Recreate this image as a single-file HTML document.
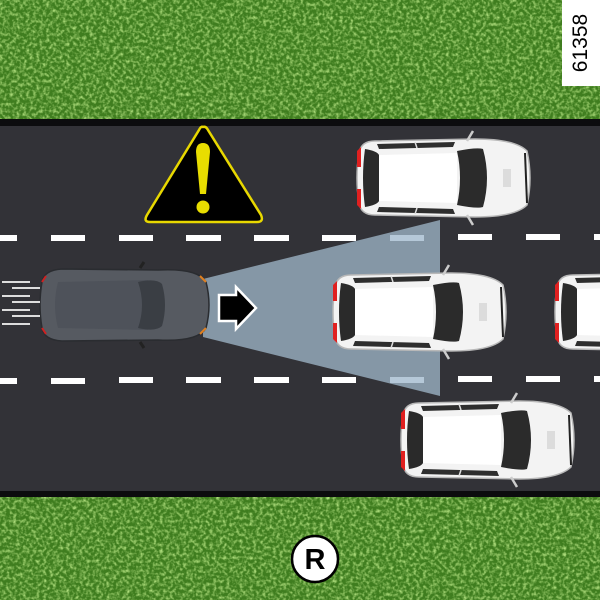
<!DOCTYPE html>
<html><head><meta charset="utf-8"><style>
html,body{margin:0;padding:0;width:600px;height:600px;overflow:hidden;background:#3f7d1f}
svg{display:block}
</style></head><body>
<svg width="600" height="600" viewBox="0 0 600 600" xmlns="http://www.w3.org/2000/svg">
<defs>
<filter id="grass" x="0" y="0" width="100%" height="100%">
<feTurbulence type="fractalNoise" baseFrequency="0.3" numOctaves="2" seed="3"/>
<feColorMatrix type="matrix" values="0 0 0 0 0.42  0 0 0 0 0.72  0 0 0 0 0.2  0 0 0 2.2 -0.9"/>
</filter>
<g id="wcar">
<path d="M4,14 Q6,2 20,2 L120,0 Q160,0 172,12 Q178,39 172,66 Q160,78 120,78 L20,76 Q6,76 4,64 Q0,39 4,14 Z" fill="#f3f3f3" stroke="#b8b8b8" stroke-width="1.5"/>
<path d="M2,12 L6,8 L6,28 L2,28 Z M2,66 L6,70 L6,50 L2,50 Z" fill="#e02020"/>
<path d="M10,10 Q22,12 24,16 L24,62 Q22,66 10,68 Q6,39 10,10 Z" fill="#2a2a2a"/>
<path d="M24,16 L102,14 L102,64 L24,62 Z" fill="#ffffff"/>
<path d="M102,12 Q122,8 128,10 Q136,39 128,68 Q122,70 102,66 Q108,39 102,12 Z" fill="#2b2b2b"/>
<path d="M22,5 L100,3 L98,8 L24,10 Z M22,73 L100,75 L98,70 L24,68 Z" fill="#2e2e2e"/>
<path d="M60,3 L62,9 M60,75 L62,69" stroke="#ddd" stroke-width="1.5"/>
<path d="M112,2 L118,-8 M112,76 L118,86" stroke="#ccc" stroke-width="2.5"/>
<rect x="148" y="30" width="8" height="18" fill="#dcdcdc"/>
<path d="M170,14 L172,64" stroke="#222" stroke-width="2"/>
</g>
</defs>
<rect width="600" height="600" fill="#3f7d1f"/>
<rect width="600" height="600" filter="url(#grass)"/>
<rect x="0" y="119" width="600" height="378" fill="#0c0c0e"/>
<rect x="0" y="126" width="600" height="365" fill="#323237"/>
<g fill="#fff">
<rect x="0" y="235" width="17" height="6"/><rect x="51" y="235" width="34" height="6"/><rect x="119" y="235" width="34" height="6"/><rect x="186" y="235" width="35" height="6"/><rect x="254" y="235" width="35" height="6"/><rect x="322" y="235" width="34" height="6"/><rect x="458" y="234" width="34" height="6"/><rect x="526" y="234" width="34" height="6"/><rect x="594" y="234" width="10" height="6"/>
<rect x="0" y="378" width="17" height="6"/><rect x="51" y="378" width="34" height="6"/><rect x="119" y="377" width="34" height="6"/><rect x="186" y="377" width="35" height="6"/><rect x="254" y="377" width="35" height="6"/><rect x="322" y="377" width="34" height="6"/><rect x="458" y="376" width="34" height="6"/><rect x="526" y="376" width="34" height="6"/><rect x="594" y="376" width="10" height="6"/>
</g>
<polygon points="203,279 440,220 440,396 203,337" fill="#8ea2b3" opacity="0.9"/>
<rect x="390" y="235" width="34" height="6" fill="#b5c8d8"/><rect x="390" y="377" width="34" height="6" fill="#b5c8d8"/>
<path d="M203,127 Q206,126 208,130 L261,215 Q264,222 257,222 L150,222 Q143,222 147,215 L199,130 Q201,126 203,127 Z" fill="#000" stroke="#e8d800" stroke-width="2.5"/>
<path d="M196,152 Q196,143 203,143 Q210,143 210,152 L206,194 L200,194 Z" fill="#e8dd00"/>
<circle cx="203" cy="207" r="6.5" fill="#e8dd00"/>
<use href="#wcar" transform="translate(355,139)"/>
<use href="#wcar" transform="translate(331,273)"/>
<use href="#wcar" transform="translate(399,401)"/>
<use href="#wcar" transform="translate(553,273)"/>
<g transform="translate(38,268)">
<path d="M4,14 Q6,2 24,1 L120,2 Q160,0 168,14 Q174,37 168,60 Q160,74 120,72 L24,73 Q6,72 4,60 Q0,37 4,14 Z" fill="#565a61" stroke="#2a2c30" stroke-width="1.5"/>
<path d="M20,14 L110,12 Q130,37 110,62 L20,60 Q14,37 20,14 Z" fill="#4e525a"/>
<path d="M100,14 Q118,10 124,16 Q130,37 124,58 Q118,64 100,60 Q108,37 100,14 Z" fill="#3a3e44"/>
<path d="M4,14 L8,8 M4,60 L8,66" stroke="#d02020" stroke-width="2"/>
<path d="M162,8 L168,14 M162,66 L168,60" stroke="#e08020" stroke-width="2"/>
<path d="M102,0 L106,-6 M102,74 L106,80" stroke="#222" stroke-width="3"/>
</g>
<g fill="none" stroke="#ddd" stroke-width="2">
<path d="M2,282 H30 M12,288 H40 M2,296 H30 M12,302 H40 M2,310 H30 M12,316 H40 M2,324 H30"/>
</g>
<path d="M219,295 L236,295 L236,287 L256,308 L236,329 L236,321 L219,321 Z" fill="#000" stroke="#fff" stroke-width="2.5"/>
<rect x="562" y="0" width="38" height="86" fill="#fff"/>
<text x="0" y="0" transform="translate(587,43) rotate(-90)" text-anchor="middle" font-family="Liberation Sans, sans-serif" font-size="21" fill="#000">61358</text>
<circle cx="315" cy="559" r="23" fill="#fff" stroke="#000" stroke-width="2.5"/>
<text x="315" y="569" text-anchor="middle" font-family="Liberation Sans, sans-serif" font-weight="bold" font-size="29" fill="#000">R</text>
</svg>
</body></html>
